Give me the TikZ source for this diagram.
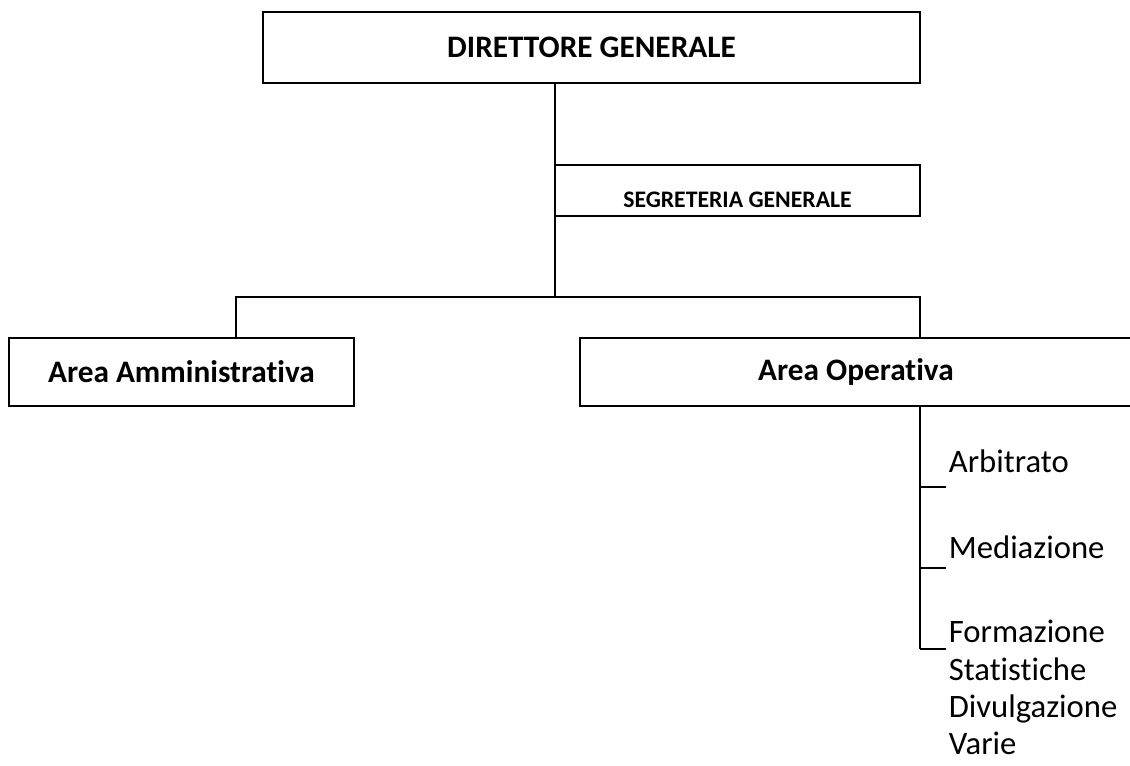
\documentclass[tikz,border=0pt]{standalone}
\usepackage{fontspec}
\setmainfont{Carlito}[Ligatures={NoCommon,NoRare}]
\usetikzlibrary{calc}

\begin{document}
\begin{tikzpicture}[x=0.02cm,y=-0.02cm,line width=1pt,
		box/.style={draw,rectangle,inner sep=0pt,font=\bfseries\fontsize{17.8}{20}\selectfont},
		item/.style={anchor=base west,inner sep=0pt,font=\fontsize{18.6}{21}\selectfont}]
			\useasboundingbox (0,0) rectangle (1130,765);
			
			% boxes
			\node[box,minimum width=13.14cm,minimum height=1.42cm] (dg) at (591.5,47.5) {DIRETTORE GENERALE};
			\node[box,minimum width=7.3cm,minimum height=1.02cm] (seg) at (737.5,190.5) {};
			\node[anchor=base,inner sep=0pt,font=\bfseries\fontsize{13.5}{15}\selectfont] (segtxt) at (737.5,207) {SEGRETERIA GENERALE};
			\node[box,minimum width=6.9cm,minimum height=1.36cm] (aa) at (181.5,372) {Area Amministrativa};
			\node[box,minimum width=11.04cm,minimum height=1.36cm] (ao) at (856,372) {Area Operativa};
			
			% main connectors
			\coordinate (hub) at (555,297);
			\coordinate (la) at (236,297);
			\coordinate (ra) at (920,297);
			\draw (dg.south -| hub) -- (hub);
			\draw (la |- aa.north) -- (la) -- (ra) -- (ra |- ao.north);
			
			% sub units of the Area Operativa
			\foreach \name/\txt/\by in {arb/Arbitrato/472,med/Mediazione/558,form/Formazione/642,stat/Statistiche/680,div/Divulgazione/717,var/Varie/754}{
				\node[item] (\name) at (948,\by) {\txt};
			}
			\coordinate (trunk) at (920,649);
			\draw (ra |- ao.south) -- (trunk);
			\foreach \name/\ty in {arb/487,med/568,form/649}{
				\coordinate (t\name) at (920,\ty);
				\draw[shorten >=0.04cm] (t\name) -- (t\name -| \name.west);
			}
		\end{tikzpicture}
\end{document}
